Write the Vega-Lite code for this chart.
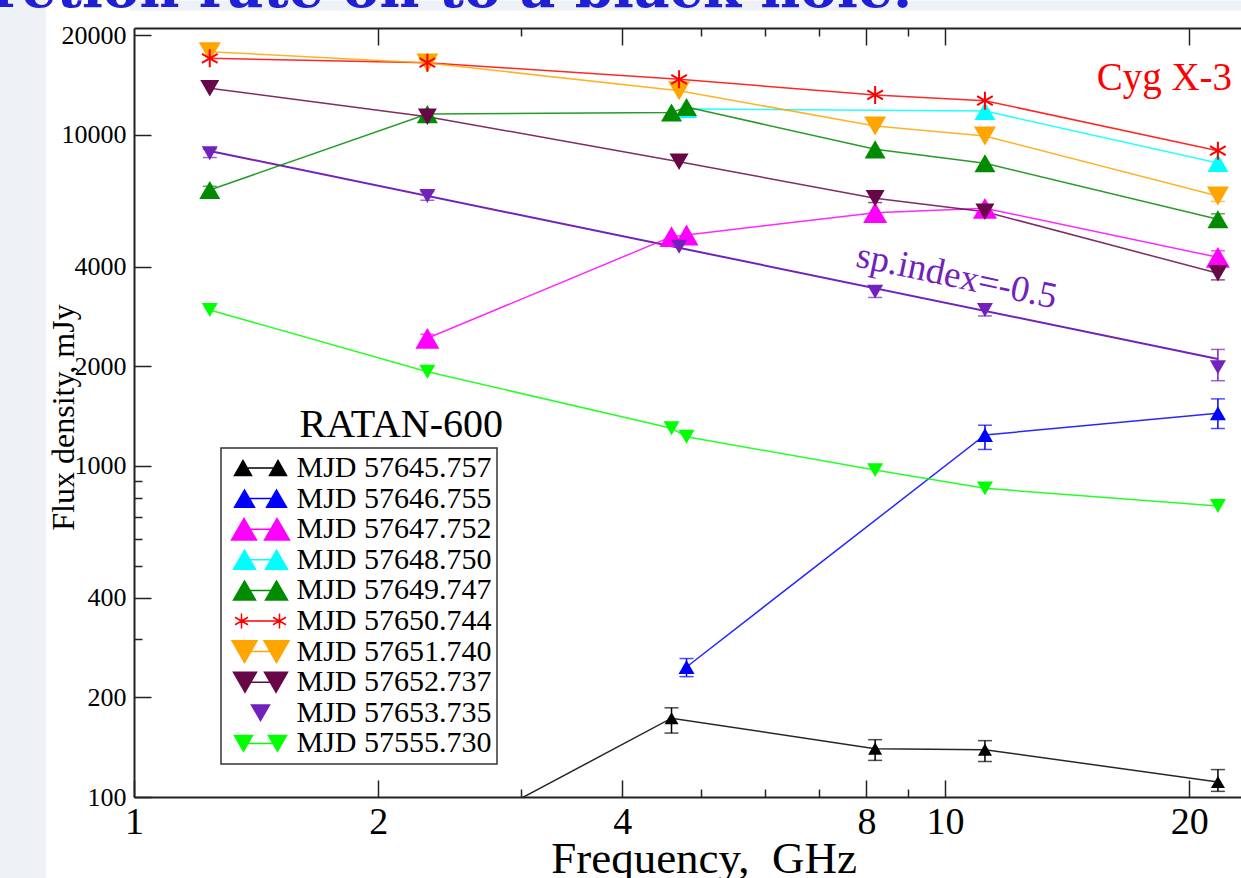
{
  "$schema": "https://vega.github.io/schema/vega-lite/v6.json",
  "width": 1107,
  "height": 769,
  "autosize": {"type": "none"},
  "padding": {"left": 134, "top": 28, "right": 0, "bottom": 81},
  "background": "#eef2f7",
  "datasets": {
    "obs": [
      {"s": "MJD 57645.757", "f": 2.3, "v": 70},
      {"s": "MJD 57645.757", "f": 4.6, "v": 173, "lo": 156, "hi": 186},
      {"s": "MJD 57645.757", "f": 8.2, "v": 140, "lo": 129, "hi": 149},
      {"s": "MJD 57645.757", "f": 11.2, "v": 139, "lo": 128, "hi": 148},
      {"s": "MJD 57645.757", "f": 21.7, "v": 111, "lo": 104, "hi": 121},
      {"s": "MJD 57646.755", "f": 4.8, "v": 247, "lo": 231, "hi": 262},
      {"s": "MJD 57646.755", "f": 11.2, "v": 1241, "lo": 1122, "hi": 1328},
      {"s": "MJD 57646.755", "f": 21.7, "v": 1443, "lo": 1298, "hi": 1595},
      {"s": "MJD 57647.752", "f": 2.3, "v": 2431, "lo": 2360, "hi": 2500},
      {"s": "MJD 57647.752", "f": 4.6, "v": 4930},
      {"s": "MJD 57647.752", "f": 4.8, "v": 4988},
      {"s": "MJD 57647.752", "f": 8.2, "v": 5826},
      {"s": "MJD 57647.752", "f": 11.2, "v": 6005},
      {"s": "MJD 57647.752", "f": 21.7, "v": 4271, "lo": 4080, "hi": 4470},
      {"s": "MJD 57648.750", "f": 4.8, "v": 11980},
      {"s": "MJD 57648.750", "f": 11.2, "v": 11815},
      {"s": "MJD 57648.750", "f": 21.7, "v": 8233},
      {"s": "MJD 57649.747", "f": 1.24, "v": 6822, "lo": 6650, "hi": 7000},
      {"s": "MJD 57649.747", "f": 2.3, "v": 11570},
      {"s": "MJD 57649.747", "f": 4.6, "v": 11695},
      {"s": "MJD 57649.747", "f": 4.8, "v": 12150},
      {"s": "MJD 57649.747", "f": 8.2, "v": 9054},
      {"s": "MJD 57649.747", "f": 11.2, "v": 8215},
      {"s": "MJD 57649.747", "f": 21.7, "v": 5564, "lo": 5350, "hi": 5780},
      {"s": "MJD 57650.744", "f": 1.24, "v": 17050},
      {"s": "MJD 57650.744", "f": 2.3, "v": 16535},
      {"s": "MJD 57650.744", "f": 4.7, "v": 14735},
      {"s": "MJD 57650.744", "f": 8.2, "v": 13210},
      {"s": "MJD 57650.744", "f": 11.2, "v": 12693},
      {"s": "MJD 57650.744", "f": 21.7, "v": 8967},
      {"s": "MJD 57651.740", "f": 1.24, "v": 17852},
      {"s": "MJD 57651.740", "f": 2.3, "v": 16500},
      {"s": "MJD 57651.740", "f": 4.7, "v": 13610},
      {"s": "MJD 57651.740", "f": 8.2, "v": 10647},
      {"s": "MJD 57651.740", "f": 11.2, "v": 9931},
      {"s": "MJD 57651.740", "f": 21.7, "v": 6543, "lo": 6300, "hi": 6800},
      {"s": "MJD 57652.737", "f": 1.24, "v": 13840},
      {"s": "MJD 57652.737", "f": 2.3, "v": 11357},
      {"s": "MJD 57652.737", "f": 4.7, "v": 8307},
      {"s": "MJD 57652.737", "f": 8.2, "v": 6438, "lo": 6250, "hi": 6630},
      {"s": "MJD 57652.737", "f": 11.2, "v": 5866},
      {"s": "MJD 57652.737", "f": 21.7, "v": 3821, "lo": 3650, "hi": 3990},
      {"s": "MJD 57653.735", "f": 1.24, "v": 8806, "lo": 8550, "hi": 9070},
      {"s": "MJD 57653.735", "f": 2.3, "v": 6543, "lo": 6350, "hi": 6740},
      {"s": "MJD 57653.735", "f": 4.7, "v": 4597},
      {"s": "MJD 57653.735", "f": 8.2, "v": 3362, "lo": 3230, "hi": 3500},
      {"s": "MJD 57653.735", "f": 11.2, "v": 2960, "lo": 2840, "hi": 3090},
      {"s": "MJD 57653.735", "f": 21.7, "v": 1987, "lo": 1810, "hi": 2250},
      {"s": "MJD 57555.730", "f": 1.24, "v": 2960},
      {"s": "MJD 57555.730", "f": 2.3, "v": 1927},
      {"s": "MJD 57555.730", "f": 4.6, "v": 1300},
      {"s": "MJD 57555.730", "f": 4.8, "v": 1226},
      {"s": "MJD 57555.730", "f": 8.2, "v": 972},
      {"s": "MJD 57555.730", "f": 11.2, "v": 856},
      {"s": "MJD 57555.730", "f": 21.7, "v": 757}
    ],
    "fit": [
      {"f": 1.24, "v": 8948},
      {"f": 21.7, "v": 2105}
    ]
  },
  "layer": [
    {
      "data": {"name": "fit"},
      "mark": {"type": "line", "color": "#7221BC", "strokeWidth": 2, "clip": true},
      "encoding": {
        "x": {"field": "f", "type": "quantitative",
          "scale": {"type": "log", "domain": [1, 23.17], "nice": false},
          "axis": {"orient": "top", "values": [3, 5, 6, 7, 9], "tickSize": -8, "labels": false, "domain": false, "title": null, "zindex": 1}},
        "y": {"field": "v", "type": "quantitative",
          "scale": {"type": "log", "domain": [100, 21050], "nice": false},
          "axis": null}
      }
    },
    {
      "data": {"name": "obs"},
      "transform": [{"filter": "datum.s !== 'MJD 57653.735'"}],
      "mark": {"type": "line", "strokeWidth": 1.5, "opacity": 0.85, "clip": true},
      "encoding": {
        "x": {"field": "f", "type": "quantitative",
          "axis": {"orient": "bottom", "values": [1, 2, 4, 8, 10, 20], "format": "d", "tickSize": -17, "labelPadding": 23, "labelFontSize": 38,
            "title": "Frequency,\u00a0 GHz", "titleFontSize": 45, "titleX": 569.5, "titleY": 75, "titleBaseline": "alphabetic", "titleAlign": "center", "zindex": 1}},
        "y": {"field": "v", "type": "quantitative",
          "axis": {"orient": "left", "values": [100, 200, 400, 1000, 2000, 4000, 10000, 20000], "format": "d", "tickSize": -17, "labelPadding": 25, "labelFontSize": 26,
            "title": "Flux density, mJy", "titleFontSize": 32, "titleAngle": 270, "titleX": -61, "titleY": 389, "titleBaseline": "alphabetic", "titleAlign": "center", "zindex": 1}},
        "color": {"field": "s", "type": "nominal"}
      }
    },
    {
      "data": {"name": "obs"},
      "transform": [{"filter": "isValid(datum.lo)"}],
      "mark": {"type": "errorbar", "ticks": {"size": 14, "thickness": 1.5}, "rule": {"strokeWidth": 1.5}},
      "encoding": {
        "x": {"field": "f", "type": "quantitative", "axis": null},
        "y": {"field": "lo", "type": "quantitative", "axis": null},
        "y2": {"field": "hi"},
        "color": {"field": "s", "type": "nominal"}
      }
    },
    {
      "data": {"name": "obs"},
      "transform": [{"filter": "datum.s !== 'MJD 57650.744'"}],
      "mark": {"type": "point", "filled": true, "opacity": 1, "clip": true},
      "encoding": {
        "x": {"field": "f", "type": "quantitative",
          "axis": {"orient": "bottom", "values": [3, 5, 6, 7, 9], "tickSize": -8, "labels": false, "domain": false, "title": null, "zindex": 1}},
        "y": {"field": "v", "type": "quantitative",
          "axis": {"orient": "left", "values": [300, 500, 600, 700, 800, 900], "tickSize": -8, "labels": false, "domain": false, "title": null, "zindex": 1}},
        "color": {"field": "s", "type": "nominal",
          "scale": {
            "domain": ["MJD 57645.757", "MJD 57646.755", "MJD 57647.752", "MJD 57648.750", "MJD 57649.747", "MJD 57650.744", "MJD 57651.740", "MJD 57652.737", "MJD 57653.735", "MJD 57555.730"],
            "range": ["#000000", "#0000FF", "#FF00FF", "#00FFFF", "#008B00", "#FF0000", "#FFA500", "#670748", "#7221BC", "#00FF00"]
          },
          "legend": {
            "orient": "none", "legendX": 87, "legendY": 420,
            "title": null,
            "fillColor": "#ffffff", "strokeColor": "#333333",
            "padding": 5, "rowPadding": 0.6,
            "labelFont": "Liberation Serif", "labelFontSize": 30, "labelColor": "#000000", "labelLimit": 400,
            "labelExpr": "datum.label + '\u00a0'",
            "symbolSize": 400, "symbolOffset": 19.5, "labelOffset": 21, "symbolStrokeWidth": 1.5,
            "symbolOpacity": 1,
            "encoding": {
              "symbols": {
                "shape": {"value": {"expr": "datum.value==='MJD 57645.757'?'M-2.6,0.74L-0.9,0.74L-1.75,-0.74ZM0.9,0.74L2.6,0.74L1.75,-0.74ZM-1.75,0L1.75,0':datum.value==='MJD 57646.755'?'M-2.6,0.87L-0.6,0.87L-1.6,-0.87ZM0.6,0.87L2.6,0.87L1.6,-0.87ZM-1.6,0L1.6,0':datum.value==='MJD 57647.752'?'M-2.9,1.08L-0.4,1.08L-1.65,-1.08ZM0.4,1.08L2.9,1.08L1.65,-1.08ZM-1.65,0L1.65,0':datum.value==='MJD 57648.750'||datum.value==='MJD 57649.747'?'M-2.7,0.95L-0.5,0.95L-1.6,-0.95ZM0.5,0.95L2.7,0.95L1.6,-0.95ZM-1.6,0L1.6,0':datum.value==='MJD 57650.744'?'M-1.9,-0.75L-1.9,0.75M-2.55,-0.375L-1.25,0.375M-2.55,0.375L-1.25,-0.375M1.9,-0.75L1.9,0.75M1.25,-0.375L2.55,0.375M1.25,0.375L2.55,-0.375M-1.9,0L1.9,0':datum.value==='MJD 57651.740'?'M-2.85,-1.08L-0.35,-1.08L-1.6,1.08ZM0.35,-1.08L2.85,-1.08L1.6,1.08ZM-1.6,0L1.6,0':datum.value==='MJD 57652.737'?'M-2.7,-1L-0.4,-1L-1.55,1ZM0.4,-1L2.7,-1L1.55,1ZM-1.55,0L1.55,0':datum.value==='MJD 57653.735'?'M-0.9,-0.78L0.9,-0.78L0,0.78Z':'M-2.6,-0.78L-0.8,-0.78L-1.7,0.78ZM0.8,-0.78L2.6,-0.78L1.7,0.78ZM-1.7,0L1.7,0'"}},
                "fill": {"value": {"expr": "scale('color', datum.value)"}},
                "stroke": {"value": {"expr": "scale('color', datum.value)"}},
                "strokeWidth": {"value": 1.5},
                "size": {"value": 400},
                "opacity": {"value": 1}
              },
              "legend": {"strokeWidth": {"value": 1.5}}
            }
          }
        },
        "shape": {"field": "s", "type": "nominal",
          "scale": {
            "domain": ["MJD 57645.757", "MJD 57646.755", "MJD 57647.752", "MJD 57648.750", "MJD 57649.747", "MJD 57651.740", "MJD 57652.737", "MJD 57653.735", "MJD 57555.730"],
            "range": ["triangle-up", "triangle-up", "triangle-up", "triangle-up", "triangle-up", "triangle-down", "triangle-down", "triangle-down", "triangle-down"]
          },
          "legend": null},
        "size": {"field": "s", "type": "nominal",
          "scale": {"type": "ordinal",
            "domain": ["MJD 57645.757", "MJD 57646.755", "MJD 57647.752", "MJD 57648.750", "MJD 57649.747", "MJD 57651.740", "MJD 57652.737", "MJD 57653.735", "MJD 57555.730"],
            "range": [196, 256, 576, 441, 441, 484, 361, 256, 256]
          },
          "legend": null}
      }
    },
    {
      "data": {"name": "obs"},
      "transform": [{"filter": "datum.s === 'MJD 57650.744'"}],
      "mark": {"type": "point", "shape": "M0,-1L0,1M-0.87,-0.5L0.87,0.5M-0.87,0.5L0.87,-0.5", "size": 324, "filled": false, "strokeWidth": 2, "opacity": 1, "clip": true},
      "encoding": {
        "x": {"field": "f", "type": "quantitative",
          "axis": {"orient": "top", "values": [2, 4, 8, 10, 20], "tickSize": -17, "labels": false, "title": null, "zindex": 1}},
        "y": {"field": "v", "type": "quantitative", "axis": null},
        "color": {"field": "s", "type": "nominal"}
      }
    },
    {
      "data": {"values": [{"f": 22.59, "v": 13680, "t": "Cyg X-3"}]},
      "mark": {"type": "text", "font": "Liberation Serif", "fontSize": 39, "color": "#FF0000", "align": "right", "baseline": "alphabetic"},
      "encoding": {
        "x": {"field": "f", "type": "quantitative",
          "axis": {"orient": "top", "offset": 23, "domainColor": "#eef2f7", "domainWidth": 10, "domainCap": "square", "ticks": false, "labels": false, "title": null, "zindex": 0}},
        "y": {"field": "v", "type": "quantitative", "axis": null},
        "text": {"field": "t"}
      }
    },
    {
      "data": {"values": [{"f": 10.335, "v": 3733, "t": "sp.index=-0.5"}]},
      "mark": {"type": "text", "font": "Liberation Serif", "fontSize": 37, "color": "#7221BC", "align": "center", "baseline": "middle", "angle": 12},
      "encoding": {
        "x": {"field": "f", "type": "quantitative", "axis": null},
        "y": {"field": "v", "type": "quantitative", "axis": null},
        "text": {"field": "t"}
      }
    },
    {
      "data": {"values": [{"f": 2.851, "v": 1221, "t": "RATAN-600"}]},
      "mark": {"type": "text", "font": "Liberation Serif", "fontSize": 40, "color": "#000000", "align": "right", "baseline": "alphabetic"},
      "encoding": {
        "x": {"field": "f", "type": "quantitative", "axis": null},
        "y": {"field": "v", "type": "quantitative", "axis": null},
        "text": {"field": "t"}
      }
    },
    {
      "data": {"values": [{"f": 9.107, "v": 24360, "t": "accretion rate on to a black hole."}]},
      "mark": {"type": "text", "font": "DejaVu Serif", "fontSize": 55, "fontWeight": "bold", "color": "#1f1fd6", "align": "right", "baseline": "alphabetic", "clip": false},
      "encoding": {
        "x": {"field": "f", "type": "quantitative", "axis": null},
        "y": {"field": "v", "type": "quantitative", "axis": null},
        "text": {"field": "t"}
      }
    }
  ],
  "resolve": {"axis": {"x": "independent", "y": "independent"}},
  "config": {
    "view": {"fill": "#ffffff", "stroke": "#ffffff", "strokeWidth": 176},
    "axis": {
      "domainColor": "#222222", "domainWidth": 2, "tickColor": "#222222", "tickWidth": 1.5, "grid": false,
      "labelFont": "Liberation Serif", "titleFont": "Liberation Serif", "labelColor": "#000000", "titleColor": "#000000",
      "titleFontWeight": "normal", "labelFlush": false, "labelOverlap": false, "labelBound": false
    }
  }
}
